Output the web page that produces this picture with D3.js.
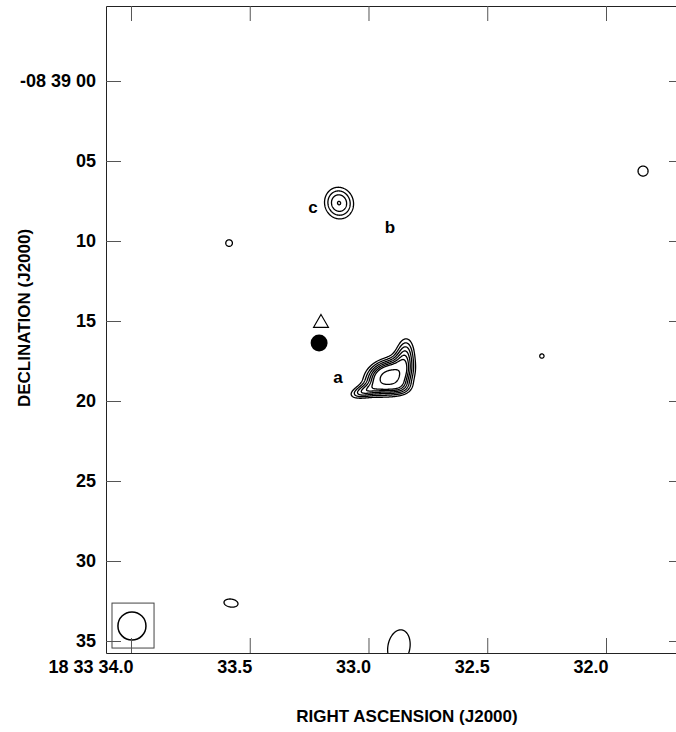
<!DOCTYPE html>
<html>
<head>
<meta charset="utf-8">
<script src="https://cdn.jsdelivr.net/npm/d3@7"></script>
<style>
  body { margin: 0; background: #fff; }
  text { font-family: "Liberation Sans", Arial, Helvetica, sans-serif; font-weight: bold; fill: #000; }
</style>
</head>
<body>
<div id="chart"></div>
<script>
// contour levels (multiples of the map rms)
const levels = [3, 4, 5, 6, 7, 8, 11];

// RA ticks: seconds of 18h 33m
const raTicks = [34.0, 33.5, 33.0, 32.5, 32.0];
const raTickLabels = ["18 33 34.0", "33.5", "33.0", "32.5", "32.0"];

// Dec ticks: arcsec south of -08 39 00
const decTicks = [0, 5, 10, 15, 20, 25, 30, 35];
const decTickLabels = ["-08 39 00", "05", "10", "15", "20", "25", "30", "35"];

// emission components
// ra (s), dec (arcsec offset), peak, sx / sy (arcsec), angle (deg, ccw)
const components = [
  { ra: 32.918, dec: 18.50, peak: 12.4, sx: 0.94, sy: 0.70, angle: 20 },  // a core
  { ra: 32.846, dec: 17.10, peak: 5.4,  sx: 0.46, sy: 0.90, angle: -5 },  // a, northern lobe
  { ra: 33.027, dec: 19.44, peak: 4.5,  sx: 0.69, sy: 0.31, angle: 15 },  // a, south-east tail
  { ra: 32.859, dec: 19.19, peak: 2.5,  sx: 0.56, sy: 0.38, angle: 0 },   // a, southern edge
  { ra: 33.124, dec: 7.63,  peak: 6.05, sx: 0.76, sy: 0.84, angle: 15 },  // c
  { ra: 31.844, dec: 5.63,  peak: 3.28, sx: 0.74, sy: 0.74, angle: 0 },
  { ra: 32.270, dec: 17.19, peak: 3.05, sx: 0.74, sy: 0.74, angle: 0 },
  { ra: 33.587, dec: 10.13, peak: 3.12, sx: 0.74, sy: 0.74, angle: 0 },
  { ra: 33.579, dec: 32.63, peak: 3.40, sx: 0.88, sy: 0.50, angle: -8 },
  { ra: 32.872, dec: 35.38, peak: 3.90, sx: 0.95, sy: 1.50, angle: -10 }
];

// source names
const labelText = ["a", "b", "c"];
const labelRa = [33.128, 32.910, 33.234];
const labelDec = [18.88, 9.50, 8.25];

// other objects: filled circle and open triangle
const circleRa = 33.208, circleDec = 16.38;
const triangleRa = 33.200, triangleDec = 15.13;

// synthesized beam (FWHM, arcsec) and its box
const beam = { ra: 33.996, dec: 34.06, fwhm: 1.75 };
const beamBox = { ra0: 34.080, ra1: 33.903, dec0: 32.63, dec1: 35.44 };

const RA2AS = 15 * Math.cos((8 + 39 / 60) * Math.PI / 180); // arcsec per RA second

const W = 676, H = 732;
const pLeft = 106, pRight = 684, pTop = 6, pBottom = 653;

const svg = d3.select("#chart").append("svg")
  .attr("width", W)
  .attr("height", H);

const x = d3.scaleLinear().domain([34.10526, 31.67158]).range([pLeft, pRight]);
const y = d3.scaleLinear().domain([-4.6875, 35.75]).range([pTop, pBottom]);

svg.append("clipPath").attr("id", "plot-clip")
  .append("rect")
  .attr("x", pLeft).attr("y", pTop)
  .attr("width", pRight - pLeft).attr("height", pBottom - pTop);

// sample the brightness on a fine grid
const step = 0.5, pad = 4;
const nx = Math.ceil((pRight - pLeft) / step) + 2 * pad;
const ny = Math.ceil((pBottom - pTop) / step) + 2 * pad;
const raAt = i => x.invert(pLeft + (i - pad) * step);
const decAt = j => y.invert(pTop + (j - pad) * step);

const raArr = d3.range(nx).map(raAt);
const decArr = d3.range(ny).map(decAt);
const values = new Float64Array(nx * ny);
const comps = components.map(c => ({
  ...c,
  cs: Math.cos(c.angle * Math.PI / 180),
  sn: Math.sin(c.angle * Math.PI / 180)
}));
for (let j = 0; j < ny; j++) {
  const dec = decArr[j];
  for (let i = 0; i < nx; i++) {
    const ra = raArr[i];
    let v = 0;
    for (const c of comps) {
      const u = (c.ra - ra) * RA2AS;
      const w = c.dec - dec;
      if (Math.abs(u) > 7 || Math.abs(w) > 7) continue;
      const p = u * c.cs + w * c.sn;
      const q = -u * c.sn + w * c.cs;
      v += c.peak * Math.exp(-0.5 * (p * p / (c.sx * c.sx) + q * q / (c.sy * c.sy)));
    }
    values[j * nx + i] = v;
  }
}

const contours = d3.contours().size([nx, ny]).thresholds(levels)(values);

const gridProjection = d3.geoTransform({
  point: function(gx, gy) {
    this.stream.point(x(raAt(gx - 0.5)), y(decAt(gy - 0.5)));
  }
});
const path = d3.geoPath(gridProjection);

svg.append("g")
  .attr("clip-path", "url(#plot-clip)")
  .selectAll("path")
  .data(contours)
  .join("path")
  .attr("d", path)
  .attr("fill", "none")
  .attr("stroke", "#000")
  .attr("stroke-width", 1.3)
  .attr("stroke-linejoin", "round");

// beam
const beamG = svg.append("g");
beamG.append("rect")
  .attr("x", x(beamBox.ra0))
  .attr("y", y(beamBox.dec0))
  .attr("width", x(beamBox.ra1) - x(beamBox.ra0))
  .attr("height", y(beamBox.dec1) - y(beamBox.dec0))
  .attr("fill", "none")
  .attr("stroke", "#444")
  .attr("stroke-width", 1);
beamG.append("ellipse")
  .attr("cx", x(beam.ra))
  .attr("cy", y(beam.dec))
  .attr("rx", x(beam.ra - beam.fwhm / 2 / RA2AS) - x(beam.ra))
  .attr("ry", y(beam.dec + beam.fwhm / 2) - y(beam.dec))
  .attr("fill", "none")
  .attr("stroke", "#000")
  .attr("stroke-width", 1.5);

// markers
svg.append("circle")
  .attr("cx", x(circleRa))
  .attr("cy", y(circleDec))
  .attr("r", 8.5)
  .attr("fill", "#000");

svg.append("path")
  .attr("d", d3.symbol(d3.symbolTriangle, 97)())
  .attr("transform", `translate(${x(triangleRa)},${y(triangleDec)})`)
  .attr("fill", "none")
  .attr("stroke", "#000")
  .attr("stroke-width", 1.1);

svg.append("g")
  .selectAll("text")
  .data(labelText)
  .join("text")
  .attr("x", (d, i) => x(labelRa[i]))
  .attr("y", (d, i) => y(labelDec[i]))
  .attr("text-anchor", "middle")
  .attr("font-size", 17)
  .text(d => d);

// axes: ticks point inward on all four sides
function styleAxis(g) {
  g.select(".domain").attr("stroke", "#222").attr("stroke-width", 1);
  g.selectAll(".tick line").attr("stroke", "#555").attr("stroke-width", 1);
}

svg.append("g")
  .attr("transform", `translate(0,${pBottom})`)
  .call(d3.axisBottom(x).tickValues(raTicks).tickFormat((d, i) => raTickLabels[i])
    .tickSizeInner(-15).tickSizeOuter(0))
  .call(styleAxis)
  .call(g => g.selectAll(".tick text")
    .attr("font-family", null)
    .attr("font-size", 18)
    .attr("text-anchor", "end")
    .attr("x", 2)
    .attr("y", 20)
    .attr("dy", 0));

svg.append("g")
  .attr("transform", `translate(0,${pTop})`)
  .call(d3.axisTop(x).tickValues(raTicks).tickFormat("").tickSizeInner(-15).tickSizeOuter(0))
  .call(styleAxis);

svg.append("g")
  .attr("transform", `translate(${pLeft},0)`)
  .call(d3.axisLeft(y).tickValues(decTicks).tickFormat((d, i) => decTickLabels[i])
    .tickSizeInner(-15).tickSizeOuter(0).tickPadding(10))
  .call(styleAxis)
  .call(g => g.selectAll(".tick text")
    .attr("font-family", null)
    .attr("font-size", 18));

svg.append("g")
  .attr("transform", `translate(${pRight},0)`)
  .call(d3.axisRight(y).tickValues(decTicks).tickFormat("").tickSizeInner(-15).tickSizeOuter(0))
  .call(styleAxis);

// axis titles
svg.append("text")
  .attr("x", 407)
  .attr("y", 722)
  .attr("text-anchor", "middle")
  .attr("font-size", 17)
  .text("RIGHT ASCENSION (J2000)");

svg.append("text")
  .attr("transform", "translate(30,318) rotate(-90)")
  .attr("text-anchor", "middle")
  .attr("font-size", 17)
  .text("DECLINATION (J2000)");
</script>
</body>
</html>
